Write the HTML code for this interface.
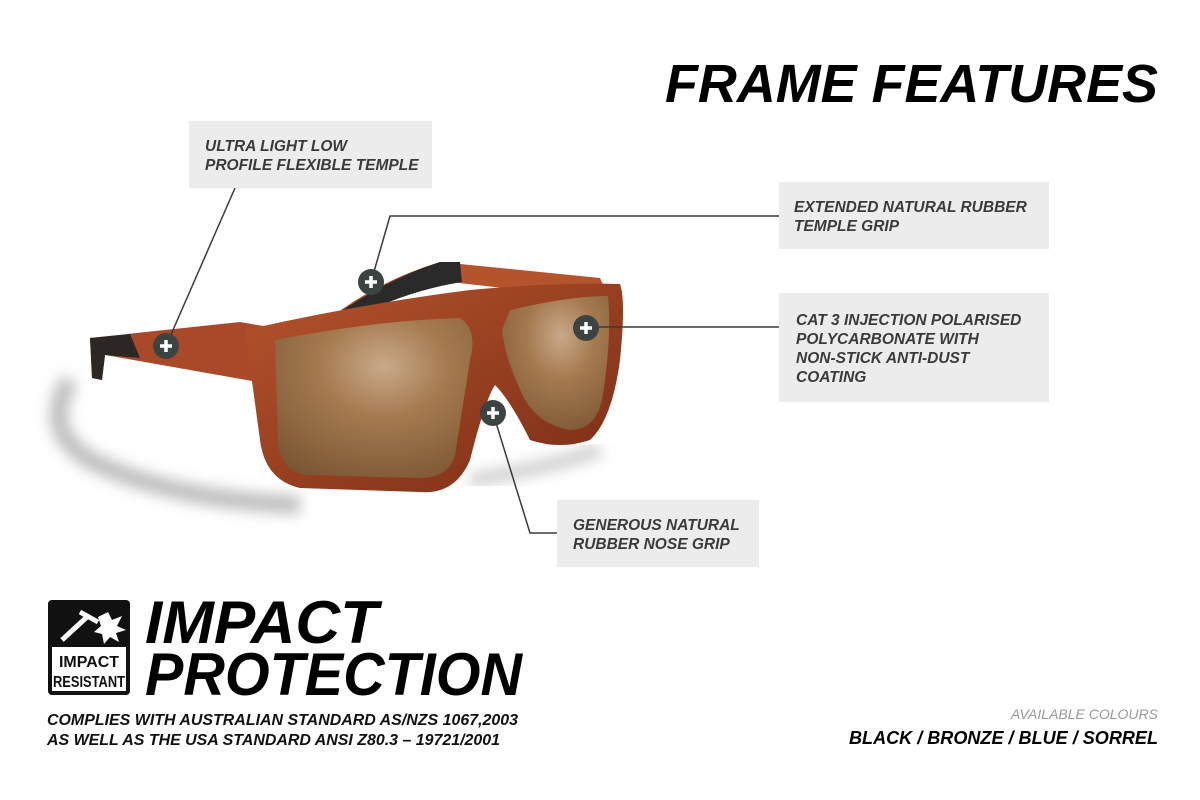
<!DOCTYPE html>
<html><head><meta charset="utf-8"><style>html,body{margin:0;padding:0;background:#fff}svg{display:block}</style></head>
<body>
<svg width="1200" height="800" viewBox="0 0 1200 800" xmlns="http://www.w3.org/2000/svg" font-family="Liberation Sans, sans-serif">
<defs>
<filter id="bl" x="-20%" y="-20%" width="140%" height="140%"><feGaussianBlur stdDeviation="7"/></filter>
<radialGradient id="lens" cx="0.55" cy="0.3" r="0.8"><stop offset="0" stop-color="#c9a98a"/><stop offset="0.4" stop-color="#a57a4f"/><stop offset="1" stop-color="#7a5533"/></radialGradient>
<linearGradient id="fr" x1="0" y1="0" x2="1" y2="1"><stop offset="0" stop-color="#b5532c"/><stop offset="1" stop-color="#7a2d16"/></linearGradient>
</defs>
<rect width="1200" height="800" fill="#fff"/>
<path d="M70 380 Q40 430 90 460 Q170 500 300 505" stroke="#bdbdbd" stroke-width="18" fill="none" filter="url(#bl)"/>
<path d="M470 480 Q540 470 600 450" stroke="#cfcfcf" stroke-width="14" fill="none" filter="url(#bl)"/>
<path d="M330 318 Q380 280 440 262 L600 278 L610 300 L450 282 Q390 295 345 325 Z" fill="#b5532c"/>
<path d="M340 312 Q390 278 440 262 L460 262 L462 282 Q400 292 348 322 Z" fill="#2a2a2a"/>
<path d="M90 338 L240 322 L275 328 L275 385 L105 355 L102 380 L92 378 Z" fill="#a9492a"/>
<path d="M90 338 L130 334 L140 358 L105 355 L102 380 L92 378 Z" fill="#2c2624"/>
<path d="M245 330 Q360 304 470 290 Q560 282 620 284 Q626 300 620 360 Q612 420 590 440 Q560 450 530 440 Q510 400 495 385 Q485 400 470 460 Q455 495 420 492 L300 488 Q265 480 260 440 Z" fill="url(#fr)"/>
<path d="M275 340 Q380 320 460 318 Q478 330 470 360 L455 455 Q448 478 420 478 L305 475 Q282 470 278 445 Z" fill="url(#lens)"/>
<path d="M510 310 Q570 296 608 296 Q612 340 602 400 Q595 430 570 430 Q540 425 525 400 Q505 360 502 330 Z" fill="url(#lens)"/>
<g stroke="#3a3a3a" stroke-width="1.5" fill="none">
<path d="M235 188 L166 346"/>
<path d="M779 216 L390 216 L371 282"/>
<path d="M779 327 L586 327"/>
<path d="M557 533 L530 533 L493 413"/>
</g>
<g fill="#ececec">
<rect x="189" y="121" width="243" height="67"/>
<rect x="779" y="182" width="270" height="67"/>
<rect x="779" y="293" width="270" height="109"/>
<rect x="557" y="500" width="202" height="67"/>
</g>
<g font-weight="bold" font-style="italic" font-size="15.5" fill="#3a3a3a">
<text x="205" y="151">ULTRA LIGHT LOW</text>
<text x="205" y="170">PROFILE FLEXIBLE TEMPLE</text>
<text x="794" y="212">EXTENDED NATURAL RUBBER</text>
<text x="794" y="231">TEMPLE GRIP</text>
<text x="796" y="325">CAT 3 INJECTION POLARISED</text>
<text x="796" y="344">POLYCARBONATE WITH</text>
<text x="796" y="363">NON-STICK ANTI-DUST</text>
<text x="796" y="382">COATING</text>
<text x="573" y="530">GENEROUS NATURAL</text>
<text x="573" y="549">RUBBER NOSE GRIP</text>
</g>
<g>
<g transform="translate(166,346)"><circle r="13" fill="#3b4441"/><path d="M-6 0H6M0 -6V6" stroke="#fff" stroke-width="3.5"/></g>
<g transform="translate(371,282)"><circle r="13" fill="#3b4441"/><path d="M-6 0H6M0 -6V6" stroke="#fff" stroke-width="3.5"/></g>
<g transform="translate(586,328)"><circle r="13" fill="#3b4441"/><path d="M-6 0H6M0 -6V6" stroke="#fff" stroke-width="3.5"/></g>
<g transform="translate(493,413)"><circle r="13" fill="#3b4441"/><path d="M-6 0H6M0 -6V6" stroke="#fff" stroke-width="3.5"/></g>
</g>
<text x="665" y="102" font-size="54" font-weight="bold" font-style="italic" fill="#000" textLength="493" lengthAdjust="spacingAndGlyphs">FRAME FEATURES</text>
<rect x="48" y="600" width="82" height="95" rx="4" fill="#111"/>
<rect x="52" y="647" width="74" height="44" fill="#fff"/>
<path d="M62 640 L88 616 M80 612 L98 622" stroke="#fff" stroke-width="5" fill="none"/>
<polygon points="108,612 112,620 122,616 117,626 126,630 116,633 119,642 110,637 104,644 102,634 94,632 101,626 98,617" fill="#fff"/>
<text x="89" y="667" font-size="16" font-weight="bold" text-anchor="middle" fill="#111" textLength="60" lengthAdjust="spacingAndGlyphs">IMPACT</text>
<text x="89" y="687" font-size="16" font-weight="bold" text-anchor="middle" fill="#111" textLength="72" lengthAdjust="spacingAndGlyphs">RESISTANT</text>
<text x="145" y="643" font-size="60" font-weight="bold" font-style="italic" fill="#000" textLength="233" lengthAdjust="spacingAndGlyphs">IMPACT</text>
<text x="145" y="695" font-size="60" font-weight="bold" font-style="italic" fill="#000" textLength="377" lengthAdjust="spacingAndGlyphs">PROTECTION</text>
<g font-size="16" font-style="italic" font-weight="bold" fill="#111">
<text x="47" y="725" textLength="471" lengthAdjust="spacingAndGlyphs">COMPLIES WITH AUSTRALIAN STANDARD AS/NZS 1067,2003</text>
<text x="47" y="745" textLength="453" lengthAdjust="spacingAndGlyphs">AS WELL AS THE USA STANDARD ANSI Z80.3 – 19721/2001</text>
</g>
<text x="1158" y="719" font-size="14" font-style="italic" fill="#999" text-anchor="end">AVAILABLE COLOURS</text>
<text x="1158" y="744" font-size="18" font-style="italic" font-weight="bold" fill="#000" text-anchor="end" textLength="309" lengthAdjust="spacingAndGlyphs">BLACK / BRONZE / BLUE / SORREL</text>
</svg>
</body></html>
